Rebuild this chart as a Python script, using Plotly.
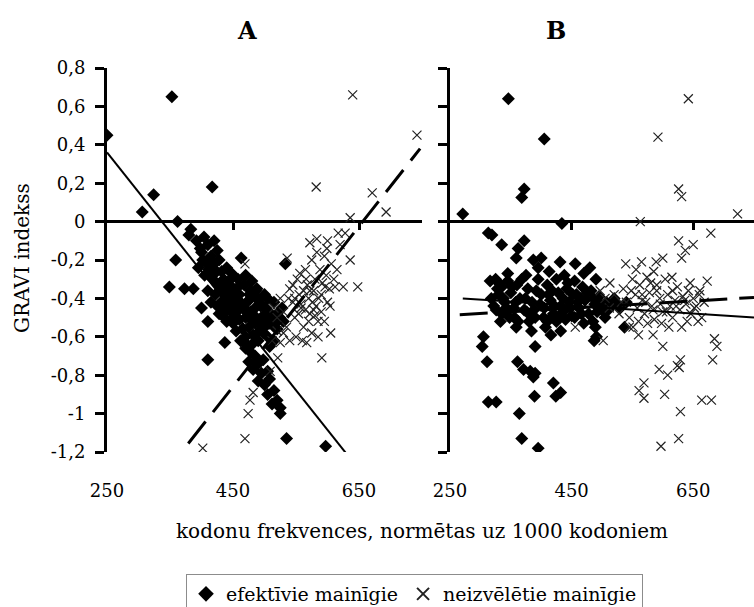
import plotly.graph_objects as go

# ---------------- data ----------------
# Panel A : diamonds = "efektīvie mainīgie"
A_eff_x = [250, 353, 306, 324, 362, 417, 380, 383, 359, 349, 373, 387, 463, 533, 410, 400, 410, 437,
           525, 535, 597,
           392, 398, 404, 410, 402, 415, 420, 425, 395, 405, 412, 420, 428, 432, 418, 426, 435, 440,
           410, 422, 430, 440, 446, 450, 415, 425, 434, 444, 452, 460, 428, 438, 447, 456, 465, 472,
           440, 450, 460, 470, 478, 485, 455, 465, 475, 485, 495, 505, 470, 482, 492, 500, 512, 520,
           528, 515, 505, 495, 487, 478, 468, 458, 448, 470, 480, 462, 472, 508, 515, 490, 500, 520,
           470, 478, 485, 475, 490, 498, 482, 495, 505, 490, 500, 508, 515, 505, 520, 512, 525,
           445, 455, 435, 452, 468, 476, 488, 498, 510, 520,
           400, 408, 416, 424, 432, 438, 446, 454, 462, 468, 476, 484, 492, 500, 508, 516, 524, 530,
           498, 505, 490, 480, 458, 450, 442, 436, 478, 486, 494, 502]
A_eff_y = [0.45, 0.65, 0.05, 0.14, 0.00, 0.18, -0.07, -0.04, -0.20, -0.34, -0.35, -0.35, -0.19, -0.22,
           -0.72, -0.45, -0.52, -0.63, -1.00, -1.13, -1.17,
           -0.10, -0.14, -0.08, -0.12, -0.20, -0.18, -0.10, -0.15, -0.24, -0.28, -0.25, -0.22, -0.20,
           -0.26, -0.30, -0.33, -0.30, -0.24, -0.36, -0.38, -0.36, -0.34, -0.30, -0.36, -0.42, -0.44,
           -0.41, -0.40, -0.42, -0.38, -0.48, -0.47, -0.46, -0.47, -0.44, -0.42, -0.52, -0.53, -0.51,
           -0.50, -0.47, -0.45, -0.57, -0.56, -0.55, -0.53, -0.50, -0.47, -0.60, -0.59, -0.57, -0.55,
           -0.52, -0.48, -0.45, -0.42, -0.40, -0.43, -0.40, -0.36, -0.33, -0.30, -0.27, -0.28, -0.31,
           -0.62, -0.64, -0.65, -0.62, -0.40, -0.38, -0.56,
           -0.66, -0.68, -0.70, -0.73, -0.74, -0.72, -0.77, -0.79, -0.78, -0.83, -0.85, -0.82, -0.88,
           -0.90, -0.93, -0.95, -0.97,
           -0.33, -0.40, -0.46, -0.50, -0.45, -0.38, -0.35, -0.50, -0.48, -0.52,
           -0.16, -0.22, -0.28, -0.26, -0.32, -0.38, -0.35, -0.40, -0.42, -0.46, -0.50, -0.49, -0.52,
           -0.50, -0.53, -0.55, -0.50, -0.52, -0.58, -0.60, -0.62, -0.64, -0.34, -0.48, -0.44, -0.50,
           -0.40, -0.36, -0.44, -0.45]

# Panel A : crosses = "neizvēlētie mainīgie"
A_neiz_x = [640, 582, 671, 636, 742, 693, 617, 583, 572, 599, 636, 536, 469, 612, 625, 648, 604, 591,
            567, 525, 521, 509, 477, 474, 469, 402, 482,
            515, 520, 525, 530, 535, 540, 545, 548, 552, 555, 558, 562, 565, 568, 570, 572, 575, 578,
            580, 582, 585, 588, 590, 592, 595, 598, 600, 603, 606, 610, 550, 560, 545, 575, 585, 530,
            538, 562, 576, 590, 556, 583, 600, 570, 595, 540, 520, 512, 615, 620, 628, 605, 565, 580,
            548, 558, 572, 586, 596, 566, 554, 578]
A_neiz_y = [0.66, 0.18, 0.15, 0.02, 0.45, 0.05, -0.06, -0.09, -0.11, -0.14, -0.20, -0.19, -0.22,
            -0.34, -0.34, -0.34, -0.44, -0.71, -0.63, -0.63, -0.71, -0.78, -0.93, -1.00, -1.13, -1.18,
            -0.89,
            -0.45, -0.50, -0.40, -0.47, -0.55, -0.35, -0.42, -0.50, -0.30, -0.38, -0.45, -0.55, -0.25,
            -0.33, -0.40, -0.48, -0.20, -0.36, -0.30, -0.44, -0.52, -0.25, -0.38, -0.32, -0.18, -0.28,
            -0.42, -0.35, -0.22, -0.30, -0.60, -0.62, -0.33, -0.58, -0.60, -0.58, -0.40, -0.36, -0.42,
            -0.47, -0.27, -0.16, -0.10, -0.52, -0.52, -0.62, -0.57, -0.62, -0.25, -0.12, -0.06, -0.58,
            -0.46, -0.49,
            -0.40, -0.43, -0.36, -0.40, -0.34, -0.30, -0.48, -0.46]

# Panel B : diamonds
B_eff_x = [271, 346, 405, 372, 368, 434, 313, 319, 335, 372, 362, 359, 387, 400, 413, 431, 456, 316,
           325, 335, 345, 330, 340, 350, 355, 322, 335, 348, 360, 365, 372, 378, 385, 390, 395, 400,
           405, 410, 415, 420, 425, 428, 432, 438, 442, 446, 450, 455, 458, 462, 468, 472, 478, 482,
           488, 495, 500, 507, 515, 525, 440, 425, 410, 380, 362, 333, 318, 345, 375, 470, 480, 395,
           455, 485, 430, 470, 388, 358, 342, 328, 418, 448, 465, 492, 505,
           330, 338, 346, 352, 368, 374, 382, 392, 398, 404, 412, 422, 436, 444, 452, 460, 466, 476,
           486, 498, 510, 520, 530, 540, 326, 356, 376, 416, 436, 490,
           359, 384, 407, 432, 416, 489, 487, 491, 537, 390, 305, 303, 311, 361, 371, 382, 390, 387,
           420, 432, 424, 389, 313, 326, 364, 368, 395]
B_eff_y = [0.04, 0.64, 0.43, 0.17, 0.125, -0.01, -0.06, -0.07, -0.12, -0.10, -0.14, -0.19, -0.20,
           -0.19, -0.26, -0.21, -0.22, -0.31,
           -0.30, -0.34, -0.31, -0.38, -0.42, -0.37, -0.45, -0.44, -0.48, -0.50, -0.33, -0.40, -0.46,
           -0.35, -0.42, -0.50, -0.30, -0.38, -0.45, -0.33, -0.41, -0.48, -0.30, -0.37, -0.44, -0.28,
           -0.35, -0.42, -0.49, -0.31, -0.38, -0.45, -0.34, -0.41, -0.48, -0.36, -0.43, -0.39, -0.46,
           -0.42, -0.44, -0.43, -0.51, -0.52, -0.52, -0.52, -0.52, -0.52, -0.40, -0.27, -0.28, -0.27,
           -0.24, -0.24, -0.50, -0.52, -0.50, -0.53, -0.46, -0.42, -0.45, -0.35, -0.36, -0.45, -0.40,
           -0.47, -0.50,
           -0.32, -0.40, -0.46, -0.34, -0.30, -0.40, -0.48, -0.36, -0.43, -0.50, -0.38, -0.44, -0.40,
           -0.32, -0.38, -0.42, -0.48, -0.37, -0.40, -0.43, -0.46, -0.40, -0.45, -0.42, -0.46, -0.50,
           -0.47, -0.50, -0.47, -0.30,
           -0.55, -0.57, -0.55, -0.57, -0.59, -0.55, -0.62, -0.60, -0.55, -0.65, -0.60, -0.65, -0.73,
           -0.73, -0.77, -0.78, -0.79, -0.81, -0.84, -0.89, -0.91, -0.91, -0.94, -0.94, -1.00, -1.13,
           -1.18]

# Panel B : crosses
B_neiz_x = [642, 592, 626, 631, 723, 563, 679, 650, 626, 637, 631, 600, 589, 565, 539, 556, 585, 513,
            497, 673, 645, 616, 661,
            505, 512, 520, 528, 535, 540, 545, 550, 555, 558, 562, 566, 570, 574, 578, 582, 586, 590,
            595, 600, 604, 608, 612, 616, 620, 624, 628, 633, 638, 642, 646, 650, 655, 660, 664, 668,
            575, 560, 545, 598, 532, 548, 580, 615, 640, 658,
            572, 584, 596, 606, 622, 636, 652, 566, 590,
            456, 502, 551, 560, 584, 600, 610, 631, 685, 689, 682, 629, 624, 627, 594, 608, 569, 561,
            569, 603, 664, 680, 629, 626, 597]
B_neiz_y = [0.64, 0.44, 0.17, 0.13, 0.04, 0.00, -0.06, -0.12, -0.10, -0.15, -0.19, -0.19, -0.21,
            -0.21, -0.22, -0.25, -0.26, -0.32, -0.36, -0.31, -0.32, -0.36, -0.36,
            -0.40, -0.45, -0.38, -0.48, -0.35, -0.42, -0.50, -0.30, -0.38, -0.45, -0.33, -0.41, -0.48,
            -0.29, -0.37, -0.44, -0.51, -0.33, -0.40, -0.47, -0.30, -0.38, -0.44, -0.50, -0.41, -0.34,
            -0.46, -0.39, -0.43, -0.36, -0.48, -0.40, -0.44, -0.38, -0.50, -0.42,
            -0.53, -0.52, -0.55, -0.53, -0.42, -0.36, -0.32, -0.29, -0.52, -0.52,
            -0.42, -0.46, -0.43, -0.47, -0.44, -0.41, -0.45, -0.38, -0.36,
            -0.55, -0.62, -0.55, -0.59, -0.59, -0.65, -0.55, -0.55, -0.61, -0.65, -0.72, -0.72, -0.75,
            -0.76, -0.77, -0.80, -0.84, -0.88, -0.92, -0.90, -0.93, -0.93, -0.99, -1.13, -1.17]

# linear trend lines: (x_start, x_end, y_start, y_end)
A_eff_trend = [250, 640, 0.36, -1.25]
A_neiz_trend = [379, 747, -1.156, 0.38]
B_eff_trend = [271, 750, -0.40, -0.50]
B_neiz_trend = [266, 750, -0.485, -0.395]

# axis ticks
y_tickvals = [-1.2, -1.0, -0.8, -0.6, -0.4, -0.2, 0.0, 0.2, 0.4, 0.6, 0.8]
y_ticktext = ["-1,2", "-1", "-0,8", "-0,6", "-0,4", "-0,2", "0", "0,2", "0,4", "0,6", "0,8"]
x_tickvals = [250, 450, 650]
x_ticktext = ["250", "450", "650"]
x_range = [250, 750]
y_range = [-1.2, 0.8]

panel_titles = ["A", "B"]
x_title = "kodonu frekvences, normētas uz 1000 kodoniem"
y_title = "GRAVI indekss"
series_names = ["efektīvie mainīgie", "neizvēlētie mainīgie"]

# ---------------- layout geometry ----------------
W, H = 754, 607
FONT = "DejaVu Serif"


def fx(p):
    return p / W


def fy(p):
    return 1 - p / H


domA = [fx(107), fx(422)]
domB = [fx(450), 1.0]
domY = [fy(452), fy(68)]
zero_pos = domY[0] + (0 - y_range[0]) / (y_range[1] - y_range[0]) * (domY[1] - domY[0])

fig = go.Figure()

diamond = dict(symbol="diamond", size=10, color="black", line=dict(width=0))
cross = dict(symbol="x-thin-open", size=9, color="#222", line=dict(width=1.2, color="#222"))

panels = [
    ("x", "y", "x3", A_eff_x, A_eff_y, A_neiz_x, A_neiz_y, A_eff_trend, A_neiz_trend, True),
    ("x2", "y2", "x4", B_eff_x, B_eff_y, B_neiz_x, B_neiz_y, B_eff_trend, B_neiz_trend, False),
]
for xa, ya, xo, ex, ey, nx, ny, et, nt, leg in panels:
    fig.add_trace(go.Scatter(x=ex, y=ey, mode="markers", marker=diamond, name=series_names[0],
                             xaxis=xa, yaxis=ya, showlegend=leg, legendgroup="e", hoverinfo="skip"))
    fig.add_trace(go.Scatter(x=nx, y=ny, mode="markers", marker=cross, name=series_names[1],
                             xaxis=xa, yaxis=ya, showlegend=leg, legendgroup="n", hoverinfo="skip"))
    fig.add_trace(go.Scatter(x=et[:2], y=et[2:], mode="lines", line=dict(color="black", width=2),
                             xaxis=xo, yaxis=ya, showlegend=False, hoverinfo="skip"))
    fig.add_trace(go.Scatter(x=nt[:2], y=nt[2:], mode="lines",
                             line=dict(color="black", width=3, dash="28px,12px"),
                             xaxis=xo, yaxis=ya, showlegend=False, hoverinfo="skip"))

tickfont = dict(family=FONT, size=18, color="black")
label_x = dict(range=x_range, showline=False, ticks="", tickvals=x_tickvals, ticktext=x_ticktext,
               showgrid=False, zeroline=False, tickfont=tickfont, ticklabelstandoff=26)
tick_x = dict(range=x_range, showline=False, ticks="outside", ticklen=7, tickwidth=3,
              tickcolor="black", tickvals=[450, 650], showticklabels=False, showgrid=False,
              zeroline=False, anchor="free", position=zero_pos, side="bottom")
y_common = dict(range=y_range, showline=True, linewidth=3, linecolor="black", ticks="outside",
                ticklen=9, tickwidth=2.5, tickcolor="black", tickvals=y_tickvals,
                ticktext=y_ticktext, showgrid=False, zeroline=True, zerolinecolor="black",
                zerolinewidth=2.5, tickfont=tickfont, ticklabelstandoff=6, domain=domY)

fig.update_layout(
    width=W, height=H,
    margin=dict(l=0, r=0, t=0, b=0, autoexpand=False),
    paper_bgcolor="white", plot_bgcolor="white",
    xaxis=dict(domain=domA, anchor="y", **label_x),
    xaxis2=dict(domain=domB, anchor="y2", **label_x),
    xaxis3=dict(overlaying="x", **tick_x),
    xaxis4=dict(overlaying="x2", **tick_x),
    yaxis=dict(anchor="x", **y_common),
    yaxis2=dict(anchor="x2", showticklabels=False, **y_common),
    showlegend=True,
    legend=dict(orientation="h", x=fx(186), y=fy(574), xanchor="left", yanchor="top",
                bordercolor="#8c8c8c", borderwidth=1, bgcolor="white",
                font=dict(family=FONT, size=19, color="black"), itemsizing="constant",
                tracegroupgap=0, itemwidth=30),
    annotations=[
        dict(text=panel_titles[0], x=fx(247), y=fy(30), xref="paper", yref="paper",
             xanchor="center", yanchor="middle", showarrow=False,
             font=dict(family=FONT, size=24, color="black", weight="bold")),
        dict(text=panel_titles[1], x=fx(556), y=fy(30), xref="paper", yref="paper",
             xanchor="center", yanchor="middle", showarrow=False,
             font=dict(family=FONT, size=24, color="black", weight="bold")),
        dict(text=y_title, x=fx(22), y=fy(258), xref="paper", yref="paper", textangle=-90,
             xanchor="center", yanchor="middle", showarrow=False,
             font=dict(family=FONT, size=20, color="black")),
        dict(text=x_title, x=fx(422), y=fy(531), xref="paper", yref="paper",
             xanchor="center", yanchor="middle", showarrow=False,
             font=dict(family=FONT, size=20, color="black")),
    ],
)

fig.write_html("out.html")
